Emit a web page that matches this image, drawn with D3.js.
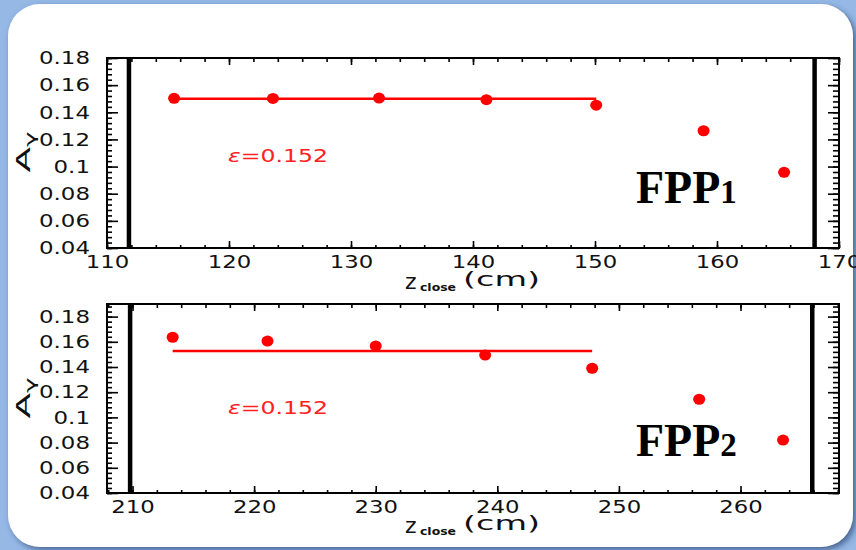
<!DOCTYPE html>
<html>
<head>
<meta charset="utf-8">
<script src="https://cdn.jsdelivr.net/npm/d3@7"></script>
<style>
    body { margin: 0; background: #95b8e5; }
    svg { display: block; }
    .tick text { font-family: 'DejaVu Sans', sans-serif; font-size: 18px; fill: #111; }
    .domain { display: none; }
</style>
</head>
<body>
<svg id="chart" width="856" height="550"></svg>
<script>
// FPP1 (top panel): z_close in cm, A_gamma
const zFpp1 = [115.5, 123.6, 132.3, 141.1, 150.1, 158.9, 165.5];
const aFpp1 = [0.1503, 0.1502, 0.1505, 0.1493, 0.1452, 0.1264, 0.0958];
const fitFpp1 = { from: 115.5, to: 150.1, value: 0.150 };
const cutsFpp1 = [111.8, 168.0];
const xTicksFpp1 = [110, 120, 130, 140, 150, 160, 170];
const yTicksFpp1 = [0.04, 0.06, 0.08, 0.1, 0.12, 0.14, 0.16, 0.18];

// FPP2 (bottom panel)
const zFpp2 = [213.3, 221.1, 230.0, 239.0, 247.8, 256.6, 263.5];
const aFpp2 = [0.1636, 0.1606, 0.1567, 0.1495, 0.1390, 0.1144, 0.0820];
const fitFpp2 = { from: 213.3, to: 247.8, value: 0.1527 };
const cutsFpp2 = [209.8, 265.9];
const xTicksFpp2 = [210, 220, 230, 240, 250, 260];
const yTicksFpp2 = [0.04, 0.06, 0.08, 0.1, 0.12, 0.14, 0.16, 0.18];

const epsValue = '=0.152';

const svg = d3.select('#chart');

// Shadow for the white card.
const defs = svg.append('defs');
defs.append('filter')
    .attr('id', 'shadow')
    .attr('x', '-5%').attr('y', '-5%').attr('width', '110%').attr('height', '110%')
    .append('feDropShadow')
    .attr('dx', 3).attr('dy', 3).attr('stdDeviation', 3)
    .attr('flood-color', '#34507e').attr('flood-opacity', 0.8);

svg.append('rect')
    .attr('x', 8).attr('y', 4)
    .attr('width', 845).attr('height', 543)
    .attr('rx', 32)
    .attr('fill', '#fff')
    .attr('filter', 'url(#shadow)');

// Approximate character widths to stretch tick labels like the gothic font.
function labelWidth(s) {
    return d3.sum(s.split(''), c => (c === '.' ? 7.5 : 14.5));
}

function drawPanel(cfg) {
    const { left, right, top, bottom } = cfg;

    const x = d3.scaleLinear().domain(cfg.xDomain).range([left, right]);
    const y = d3.scaleLinear().domain(cfg.yDomain).range([bottom, top]);

    const g = svg.append('g');

    const yFmt = d => String(+d.toFixed(2));
    const xMinor = d3.range(Math.ceil(cfg.xDomain[0] / 2) * 2, cfg.xDomain[1] + 0.001, 2);
    const yMinor = d3.range(cfg.yDomain[0], cfg.yDomain[1] + 1e-6, 0.004);

    // Minor ticks on all four sides.
    g.append('g').attr('transform', `translate(0,${bottom})`)
        .call(d3.axisBottom(x).tickValues(xMinor).tickSize(-3).tickFormat(''));
    g.append('g').attr('transform', `translate(0,${top})`)
        .call(d3.axisTop(x).tickValues(xMinor).tickSize(-4).tickFormat(''));
    g.append('g').attr('transform', `translate(${left},0)`)
        .call(d3.axisLeft(y).tickValues(yMinor).tickSize(-5).tickFormat(''));
    g.append('g').attr('transform', `translate(${right},0)`)
        .call(d3.axisRight(y).tickValues(yMinor).tickSize(-6).tickFormat(''));

    // Major ticks.
    g.append('g').attr('transform', `translate(0,${bottom})`)
        .call(d3.axisBottom(x).tickValues(cfg.xTicks).tickSize(-7).tickPadding(7).tickFormat(d3.format('d')));
    g.append('g').attr('transform', `translate(0,${top})`)
        .call(d3.axisTop(x).tickValues(cfg.xTicks).tickSize(-7).tickFormat(''));
    g.append('g').attr('transform', `translate(${left},0)`)
        .call(d3.axisLeft(y).tickValues(cfg.yTicks).tickSize(-11).tickPadding(17).tickFormat(yFmt));
    g.append('g').attr('transform', `translate(${right},0)`)
        .call(d3.axisRight(y).tickValues(cfg.yTicks).tickSize(-11).tickFormat(''));

    g.selectAll('.tick line').attr('stroke', '#000').attr('stroke-width', 1.6);
    g.selectAll('.tick text')
        .attr('textLength', function () { return labelWidth(this.textContent); })
        .attr('lengthAdjust', 'spacingAndGlyphs');

    // Frame.
    g.append('rect')
        .attr('x', left).attr('y', top)
        .attr('width', right - left).attr('height', bottom - top)
        .attr('fill', 'none').attr('stroke', '#000').attr('stroke-width', 2);

    // Thick vertical cut lines.
    g.selectAll('.cut')
        .data(cfg.cuts)
        .enter()
        .append('line')
        .attr('x1', d => x(d)).attr('x2', d => x(d))
        .attr('y1', top).attr('y2', bottom)
        .attr('stroke', '#000').attr('stroke-width', 4.5);

    // Fit line.
    g.append('line')
        .attr('x1', x(cfg.fit.from)).attr('x2', x(cfg.fit.to))
        .attr('y1', y(cfg.fit.value)).attr('y2', y(cfg.fit.value))
        .attr('stroke', '#ff0000').attr('stroke-width', 2.5);

    // Points.
    g.selectAll('.pt')
        .data(cfg.z)
        .enter()
        .append('ellipse')
        .attr('cx', d => x(d))
        .attr('cy', (d, i) => y(cfg.a[i]))
        .attr('rx', 6).attr('ry', 5.5)
        .attr('fill', '#ff0000');

    // Efficiency label.
    const eps = g.append('text')
        .attr('x', 228).attr('y', cfg.epsY)
        .attr('font-family', 'DejaVu Sans, sans-serif')
        .attr('font-size', 18)
        .attr('fill', '#ff2020')
        .attr('textLength', 100)
        .attr('lengthAdjust', 'spacingAndGlyphs');
    eps.append('tspan').attr('font-style', 'italic').text('ε');
    eps.append('tspan').text(epsValue);

    // Panel title.
    const title = g.append('text')
        .attr('x', 636).attr('y', cfg.titleY)
        .attr('font-family', 'Liberation Serif, serif')
        .attr('font-weight', 'bold')
        .attr('font-size', 46)
        .attr('fill', '#000');
    title.append('tspan').text('FPP');
    title.append('tspan').attr('font-size', 33).text(cfg.titleNum);

    // Y axis label: A with gamma subscript, rotated.
    const yl = g.append('text')
        .attr('transform', `translate(30, ${cfg.yLabelY}) rotate(-90)`)
        .attr('font-family', 'DejaVu Sans, sans-serif')
        .attr('font-size', 20)
        .attr('text-anchor', 'middle')
        .attr('fill', '#111')
        .attr('textLength', 41)
        .attr('lengthAdjust', 'spacingAndGlyphs');
    yl.append('tspan').text('A');
    yl.append('tspan').attr('font-size', 14).attr('dy', 5).text('γ');

    // X axis label.
    g.append('text')
        .attr('x', 405).attr('y', cfg.xLabelY)
        .attr('font-family', 'DejaVu Sans, sans-serif')
        .attr('font-size', 22).attr('fill', '#111')
        .text('z');
    g.append('text')
        .attr('x', 420).attr('y', cfg.xLabelY + 2)
        .attr('font-family', 'DejaVu Sans, sans-serif')
        .attr('font-weight', 'bold')
        .attr('font-size', 10).attr('fill', '#111')
        .attr('textLength', 36).attr('lengthAdjust', 'spacingAndGlyphs')
        .text('close');
    g.append('text')
        .attr('x', 463).attr('y', cfg.xLabelY - 3)
        .attr('font-family', 'DejaVu Sans, sans-serif')
        .attr('font-size', 19).attr('fill', '#111')
        .attr('textLength', 77).attr('lengthAdjust', 'spacingAndGlyphs')
        .text('(cm)');
}

drawPanel({
    z: zFpp1, a: aFpp1, fit: fitFpp1, cuts: cutsFpp1,
    xTicks: xTicksFpp1, yTicks: yTicksFpp1,
    xDomain: [110, 170], yDomain: [0.04, 0.18],
    left: 107, right: 839, top: 58, bottom: 248,
    epsY: 162, titleY: 203, titleNum: '1',
    yLabelY: 152, xLabelY: 289,
});

drawPanel({
    z: zFpp2, a: aFpp2, fit: fitFpp2, cuts: cutsFpp2,
    xTicks: xTicksFpp2, yTicks: yTicksFpp2,
    xDomain: [207.9, 268.1], yDomain: [0.04, 0.19],
    left: 107, right: 839, top: 304, bottom: 493,
    epsY: 414, titleY: 456, titleNum: '2',
    yLabelY: 398, xLabelY: 533,
});
</script>
</body>
</html>
